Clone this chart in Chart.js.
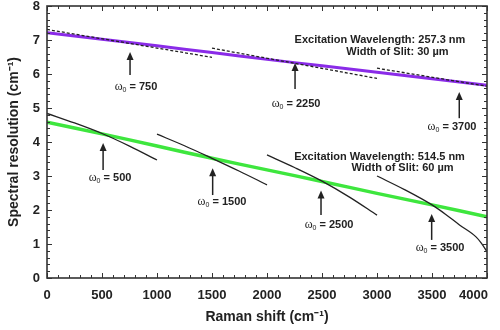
<!DOCTYPE html>
<html>
<head>
<meta charset="utf-8">
<script src="https://cdn.jsdelivr.net/npm/chart.js@4.4.1/dist/chart.umd.min.js"></script>
<style>
  html, body { margin: 0; padding: 0; background: #fff; }
  #wrap { width: 500px; height: 330px; }
</style>
</head>
<body>
<div id="wrap"><canvas id="resChart" width="500" height="330"></canvas></div>
<script>
// Raman shift grid (cm-1) for the two resolution curves
const ramanShift = [0, 500, 1000, 1500, 2000, 2500, 3000, 3500, 4000];
const res257 = [7.21, 7.02, 6.83, 6.63, 6.43, 6.24, 6.05, 5.86, 5.67];
const res514 = [4.58, 4.24, 3.88, 3.52, 3.18, 2.84, 2.49, 2.15, 1.80];

// local tangents on the 257.3 nm curve (dashed)
const tan750X = [0, 1500];
const tan750Y = [7.31, 6.49];
const tan2250X = [1500, 3000];
const tan2250Y = [6.76, 5.87];
const tan3700X = [3000, 4000];
const tan3700Y = [6.17, 5.64];

// local curves on the 514.5 nm curve
const fit500X = [0, 250, 500, 750, 1000];
const fit500Y = [4.84, 4.56, 4.25, 3.88, 3.47];
const fit1500X = [1000, 1250, 1500, 1750, 2000];
const fit1500Y = [4.23, 3.89, 3.52, 3.14, 2.74];
const fit2500X = [2000, 2250, 2500, 2750, 3000];
const fit2500Y = [3.62, 3.25, 2.85, 2.38, 1.85];
const fit3500X = [3000, 3250, 3500, 3625, 3750, 3900, 3950, 4000];
const fit3500Y = [3.00, 2.60, 2.15, 1.87, 1.56, 1.21, 1.02, 0.77];

// tick values
const xTickValues = [0, 500, 1000, 1500, 2000, 2500, 3000, 3500, 4000];
const yTickValues = [0, 1, 2, 3, 4, 5, 6, 7, 8];

// omega0 markers (data units)
const markerW0 = [750, 2250, 3700, 500, 1500, 2500, 3500];
const markerX = [755, 2255, 3748, 510, 1506, 2491, 3497];
const markerTip = [6.65, 6.32, 5.47, 3.97, 3.23, 2.57, 1.88];
const markerTail = [5.97, 5.56, 4.70, 3.18, 2.44, 1.85, 1.12];
const labelX = [809, 2264, 3682, 573, 1591, 2564, 3573];
const labelY = [5.62, 5.12, 4.44, 2.94, 2.24, 1.56, 0.88];

// text notes
const noteText = ['Excitation Wavelength: 257.3 nm', 'Width of Slit: 30 µm',
                  'Excitation Wavelength: 514.5 nm', 'Width of Slit: 60 µm'];
const noteX = [3027, 3186, 3023, 3232];
const noteY = [7.0, 6.65, 3.56, 3.24];

const pts = (xs, ys) => xs.map((x, i) => ({ x: x, y: ys[i] }));

const INK = '#222';
const SANS = '"Liberation Sans", Arial, sans-serif';

function blackLine(xs, ys, dashed) {
    return {
        data: pts(xs, ys),
        borderColor: INK,
        borderWidth: 1.3,
        borderDash: dashed ? [3, 2] : [],
        pointRadius: 0,
        tension: 0.4,
        cubicInterpolationMode: 'monotone',
        order: 1
    };
}

/**
 * Frame, inward ticks, x labels, arrows and notes
 */
const decorPlugin = {
    id: 'decor',
    afterDatasetsDraw(chart) {
        const { ctx, chartArea: a, scales: { x, y } } = chart;
        ctx.save();
        ctx.strokeStyle = '#333';
        ctx.lineWidth = 1;
        ctx.beginPath();
        for (let i = 0; i <= 40; i++) {
            const px = Math.round(x.getPixelForValue(i * 100)) + 0.5;
            const len = i % 5 === 0 ? 5 : 3;
            ctx.moveTo(px, a.bottom); ctx.lineTo(px, a.bottom - len);
            ctx.moveTo(px, a.top); ctx.lineTo(px, a.top + len);
        }
        for (let i = 0; i <= 40; i++) {
            const py = Math.round(y.getPixelForValue(i * 0.2)) + 0.5;
            const len = i % 5 === 0 ? 5 : 3;
            ctx.moveTo(a.left, py); ctx.lineTo(a.left + len, py);
            ctx.moveTo(a.right, py); ctx.lineTo(a.right - len, py);
        }
        ctx.stroke();
        ctx.lineWidth = 1.6;
        ctx.strokeRect(a.left, a.top, a.right - a.left, a.bottom - a.top);

        // x tick labels, last one kept inside the canvas
        ctx.fillStyle = INK;
        ctx.font = 'bold 13px ' + SANS;
        ctx.textBaseline = 'middle';
        ctx.textAlign = 'center';
        xTickValues.forEach(v => {
            const t = String(v);
            const w = ctx.measureText(t).width;
            let cx = x.getPixelForValue(v);
            cx = Math.min(cx, chart.width - 12 - w / 2);
            ctx.fillText(t, cx, a.bottom + 17);
        });

        // arrows
        ctx.strokeStyle = INK;
        markerW0.forEach((w0, i) => {
            const px = x.getPixelForValue(markerX[i]);
            const tip = y.getPixelForValue(markerTip[i]);
            const tail = y.getPixelForValue(markerTail[i]);
            ctx.lineWidth = 1.5;
            ctx.beginPath();
            ctx.moveTo(px, tail);
            ctx.lineTo(px, tip + 5);
            ctx.stroke();
            ctx.beginPath();
            ctx.moveTo(px, tip);
            ctx.lineTo(px - 3.5, tip + 8);
            ctx.lineTo(px + 3.5, tip + 8);
            ctx.closePath();
            ctx.fill();

            // label: omega0 = value
            const omegaFont = '12px "Liberation Serif", serif';
            const subFont = '7px ' + SANS;
            const valFont = 'bold 11px ' + SANS;
            const rest = ' = ' + w0;
            ctx.font = omegaFont; const wO = ctx.measureText('\u03c9').width;
            ctx.font = subFont; const wS = ctx.measureText('0').width;
            ctx.font = valFont; const wR = ctx.measureText(rest).width;
            let lx = x.getPixelForValue(labelX[i]) - (wO + wS + wR) / 2;
            const ly = y.getPixelForValue(labelY[i]);
            ctx.textBaseline = 'middle';
            ctx.textAlign = 'left';
            ctx.font = omegaFont; ctx.fillText('\u03c9', lx, ly); lx += wO;
            ctx.font = subFont; ctx.fillText('0', lx, ly + 3); lx += wS;
            ctx.font = valFont; ctx.fillText(rest, lx, ly);
        });

        // notes
        ctx.font = 'bold 11px ' + SANS;
        ctx.textAlign = 'center';
        ctx.textBaseline = 'middle';
        noteText.forEach((t, i) => {
            ctx.fillText(t, x.getPixelForValue(noteX[i]), y.getPixelForValue(noteY[i]));
        });
        ctx.restore();
    }
};

Chart.defaults.font.family = SANS;
Chart.defaults.color = INK;

new Chart(document.getElementById('resChart').getContext('2d'), {
    type: 'line',
    data: {
        datasets: [
            blackLine(tan750X, tan750Y, true),
            blackLine(tan2250X, tan2250Y, true),
            blackLine(tan3700X, tan3700Y, true),
            blackLine(fit500X, fit500Y, false),
            blackLine(fit1500X, fit1500Y, false),
            blackLine(fit2500X, fit2500Y, false),
            blackLine(fit3500X, fit3500Y, false),
            {
                label: '257.3 nm, 30 µm',
                data: pts(ramanShift, res257),
                borderColor: '#8a2be8',
                borderWidth: 3,
                pointRadius: 0,
                tension: 0.4,
                order: 2
            },
            {
                label: '514.5 nm, 60 µm',
                data: pts(ramanShift, res514),
                borderColor: '#3ee63e',
                borderWidth: 3.5,
                pointRadius: 0,
                tension: 0.4,
                order: 2
            }
        ]
    },
    options: {
        responsive: false,
        animation: false,
        layout: { padding: { top: 6, right: 13, left: 0, bottom: 0 } },
        plugins: {
            legend: { display: false },
            tooltip: { enabled: false }
        },
        scales: {
            x: {
                type: 'linear',
                min: 0,
                max: 4000,
                afterBuildTicks: s => { s.ticks = xTickValues.map(v => ({ value: v })); },
                afterFit: s => { s.height = 52; s.paddingLeft = 0; s.paddingRight = 0; },
                grid: { display: false, drawTicks: false },
                border: { display: false },
                ticks: { display: false },
                title: {
                    display: true,
                    text: 'Raman shift (cm\u207b\u00b9)',
                    font: { size: 14, weight: 'bold' },
                    padding: { top: 0, bottom: 4 }
                }
            },
            y: {
                type: 'linear',
                min: 0,
                max: 8,
                afterBuildTicks: s => { s.ticks = yTickValues.map(v => ({ value: v })); },
                afterFit: s => { s.width = 47; s.paddingTop = 0; s.paddingBottom = 0; },
                grid: { display: false, drawTicks: false },
                border: { display: false },
                ticks: { font: { size: 13, weight: 'bold' }, padding: 7 },
                title: {
                    display: true,
                    text: 'Spectral resolution (cm\u207b\u00b9)',
                    font: { size: 14, weight: 'bold' },
                    padding: { top: 6, bottom: 0 }
                }
            }
        }
    },
    plugins: [decorPlugin]
});
</script>
</body>
</html>
